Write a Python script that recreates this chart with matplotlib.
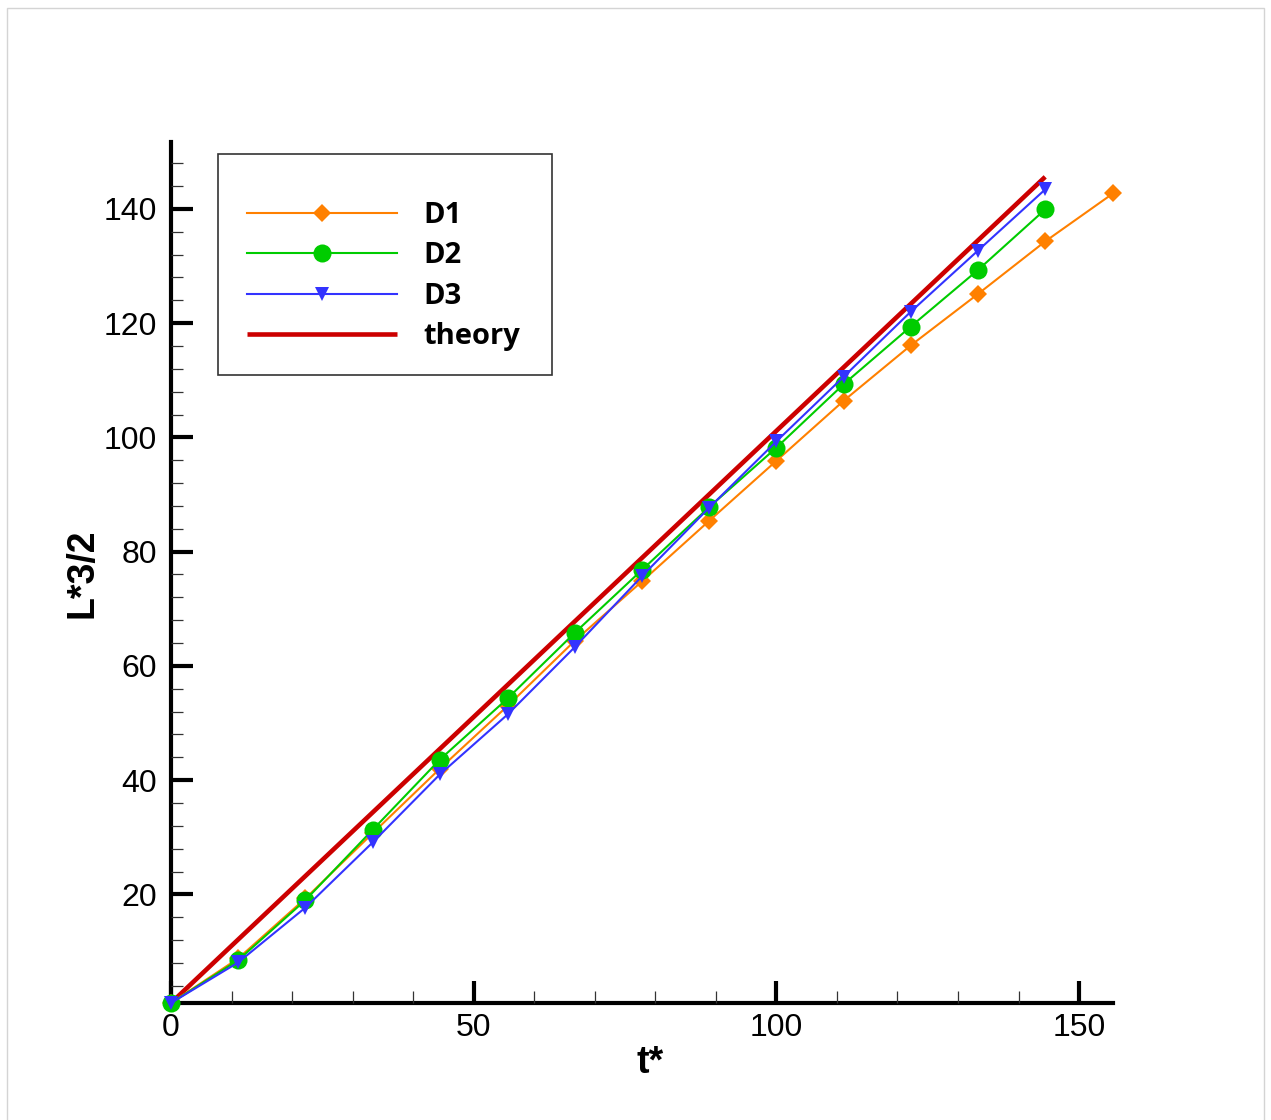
import matplotlib
matplotlib.use("Agg")
import matplotlib.pyplot as plt
from matplotlib.patches import Rectangle
from matplotlib.ticker import MultipleLocator, FixedLocator

# ---- data ----
t_d1 = [0, 11.1, 22.2, 33.3, 44.4, 55.6, 66.7, 77.8, 88.9, 100.0,
        111.1, 122.2, 133.3, 144.4, 155.6]
L_d1 = [1.0, 8.8, 19.3, 30.7, 42.0, 53.0, 64.4, 74.8, 85.4, 95.9,
        106.4, 116.1, 125.1, 134.3, 142.7]

t_d23 = [0, 11.1, 22.2, 33.3, 44.4, 55.6, 66.7, 77.8, 88.9, 100.0,
         111.1, 122.2, 133.3, 144.4]
L_d2 = [1.0, 8.5, 19.0, 31.3, 43.6, 54.3, 65.8, 76.8, 87.8, 98.2,
        109.3, 119.4, 129.3, 139.9]
L_d3 = [1.0, 8.1, 17.7, 29.1, 41.0, 51.5, 63.3, 75.7, 87.7, 99.3,
        110.6, 122.0, 132.7, 143.4]

t_theory = [0, 144.4]
L_theory = [1.0, 145.6]

W, H = 1271, 1120
C_D1 = "#ff8000"
C_D2 = "#00cc00"
C_D3 = "#3333ff"
C_TH = "#cc0000"


def fx(px):
    return px / W


def fy(py):
    return 1 - py / H


fig = plt.figure(figsize=(W / 100, H / 100), dpi=100)
fig.patch.set_facecolor("white")

# light border round the picture
fig.add_artist(Rectangle((fx(7), fy(1130)), fx(1264) - fx(7), fy(8) - fy(1130),
                         transform=fig.transFigure, fill=False,
                         edgecolor="#d4d4d4", linewidth=1.0))

ax = fig.add_axes([fx(171), fy(1003), fx(1113) - fx(171), fy(142) - fy(1003)])

h4, = ax.plot(t_theory, L_theory, color=C_TH, linewidth=3.3, zorder=2,
              solid_capstyle="butt", label="theory")
h1, = ax.plot(t_d1, L_d1, color=C_D1, linewidth=1.5, marker="D",
              markersize=9, markeredgewidth=0, zorder=3, label="D1",
              clip_on=False)
h2, = ax.plot(t_d23, L_d2, color=C_D2, linewidth=1.5, marker="o",
              markersize=13, markeredgewidth=0, zorder=4, label="D2",
              clip_on=False)
h3, = ax.plot(t_d23, L_d3, color=C_D3, linewidth=1.5, marker="v",
              markersize=10.5, markeredgewidth=0, zorder=5, label="D3",
              clip_on=False)

ax.set_xlim(0, 155.6)
ax.set_ylim(1.0, 151.7)

ax.spines["top"].set_visible(False)
ax.spines["right"].set_visible(False)
for s in ("left", "bottom"):
    ax.spines[s].set_linewidth(3.0)
    ax.spines[s].set_color("black")
    ax.spines[s].set_zorder(1)

ax.xaxis.set_major_locator(FixedLocator([0, 50, 100, 150]))
ax.xaxis.set_minor_locator(MultipleLocator(10))
ax.yaxis.set_major_locator(FixedLocator([20, 40, 60, 80, 100, 120, 140]))
ax.yaxis.set_minor_locator(MultipleLocator(4))

ax.tick_params(which="major", direction="in", length=16, width=3.0,
               labelsize=23, color="black")
ax.tick_params(axis="x", which="major", pad=7)
ax.tick_params(axis="y", which="major", pad=10)
ax.tick_params(which="minor", direction="in", length=8.5, width=0.9,
               color="#333333")
for lab in ax.get_xticklabels() + ax.get_yticklabels():
    lab.set_family("Liberation Sans")

fig.text(fx(650), fy(1063), "t*", ha="center", va="center",
         fontsize=27, fontweight="bold", family="Liberation Sans")
fig.text(fx(82), fy(573), "L*3/2", ha="center", va="center", rotation=90,
         fontsize=27, fontweight="bold", family="Liberation Sans")

# legend: frame drawn separately, entries through the legend machinery
fig.add_artist(Rectangle((fx(218), fy(375)), fx(552) - fx(218), fy(154) - fy(375),
                         transform=fig.transFigure, fill=False,
                         edgecolor="#333333", linewidth=1.2, zorder=10))
leg = ax.legend([h1, h2, h3, h4], ["D1", "D2", "D3", "theory"],
                loc="upper left", bbox_to_anchor=(fx(247), fy(201)),
                bbox_transform=fig.transFigure, frameon=False,
                borderpad=0, borderaxespad=0, handlelength=5.15,
                handletextpad=0.88, labelspacing=0.39, numpoints=1,
                prop={"family": "Open Sans", "weight": "bold", "size": 21})

fig.savefig("out.png", dpi=100)
